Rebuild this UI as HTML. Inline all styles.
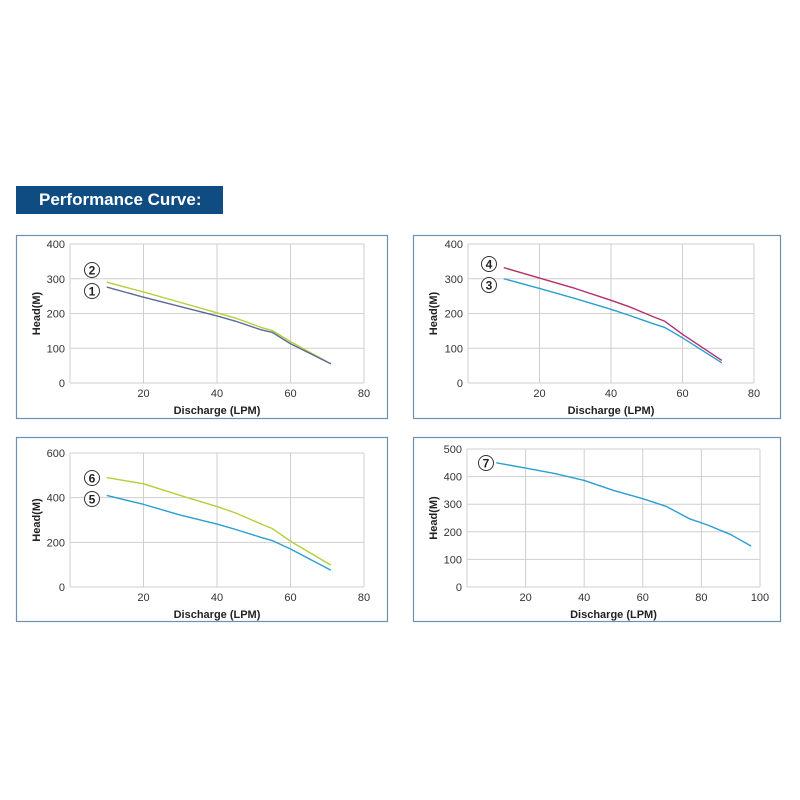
<!DOCTYPE html>
<html><head><meta charset="utf-8"><style>
body{margin:0;width:800px;height:800px;background:#fff;overflow:hidden;font-family:"Liberation Sans",sans-serif}
#hdr{position:absolute;left:16px;top:186px;width:207px;height:28px;background:#0f4c81;color:#fff;font-weight:bold;font-size:17px;line-height:28px;box-sizing:border-box;padding-left:23px}
</style></head><body>
<div id="hdr">Performance Curve:</div>
<svg id="s" width="800" height="800" style="position:absolute;left:0;top:0"></svg>
<script>
const NS="http://www.w3.org/2000/svg",S=document.getElementById('s');
function el(t,a,txt){const e=document.createElementNS(NS,t);for(const k in a)e.setAttribute(k,a[k]);if(txt!==undefined)e.textContent=txt;S.appendChild(e);return e;}
function chart(c){
 el('rect',{x:c.fx+.5,y:c.fy+.5,width:c.fw,height:c.fh,fill:'none',stroke:'#6f8fae','stroke-width':1.2});
 const X=v=>c.l+(v-0)/c.xmax*(c.r-c.l),Y=v=>c.b-v/c.ymax*(c.b-c.t);
 for(let v=0;v<=c.ymax;v+=c.ys){el('line',{x1:c.l,x2:c.r,y1:Y(v),y2:Y(v),stroke:'#cfcfcf','stroke-width':1});
  el('text',{x:c.l-5,y:Y(v)+4,'text-anchor':'end','font-size':11,fill:'#333'},v);}
 for(let v=c.xs;v<=c.xmax;v+=c.xs){el('line',{x1:X(v),x2:X(v),y1:c.t,y2:c.b,stroke:'#cfcfcf','stroke-width':1});
  el('text',{x:X(v),y:c.b+14,'text-anchor':'middle','font-size':11,fill:'#333'},v);}
 el('line',{x1:c.l,x2:c.l,y1:c.t,y2:c.b,stroke:'#cfcfcf'});
 el('text',{x:(c.l+c.r)/2,y:c.b+31,'text-anchor':'middle','font-size':11,'font-weight':'bold',fill:'#222'},'Discharge (LPM)');
 const ym=(c.t+c.b)/2;
 el('text',{x:c.fx+24,y:ym,'text-anchor':'middle','font-size':11,'font-weight':'bold',fill:'#222',transform:`rotate(-90 ${c.fx+24} ${ym})`},'Head(M)');
 c.series.forEach(s=>{el('polyline',{points:s.p.map(q=>X(q[0])+','+Y(q[1])).join(' '),fill:'none',stroke:s.c,'stroke-width':1.4,'stroke-linejoin':'round'});});
 c.labels.forEach(L=>{el('circle',{cx:L[0],cy:L[1],r:7.5,fill:'#fff',stroke:'#333','stroke-width':1});
  el('text',{x:L[0],y:L[1]+4.5,'text-anchor':'middle','font-size':12,'font-weight':'bold',fill:'#222'},L[2]);});
}
const G='#b4cf3a',B='#5a6a9a',C='#2a9fd0',M='#b0306e';
chart({fx:16,fy:235,fw:371,fh:183,l:70,r:364,t:244,b:383,xmax:80,xs:20,ymax:400,ys:100,
 series:[{c:G,p:[[10,290],[20,262],[30,232],[40,202],[45,187],[52,160],[55,151],[60,119],[71,55]]},
 {c:B,p:[[10,276],[20,247],[30,220],[40,193],[45,178],[52,153],[55,146],[60,113],[71,55]]}],
 labels:[[92,270,'2'],[92,291,'1']]});
chart({fx:413,fy:235,fw:367,fh:183,l:468,r:754,t:244,b:383,xmax:80,xs:20,ymax:400,ys:100,
 series:[{c:M,p:[[10,332],[20,302],[30,272],[40,238],[45,220],[52,190],[55,178],[60,140],[71,65]]},
 {c:C,p:[[10,300],[20,272],[30,243],[40,212],[45,195],[52,170],[55,160],[60,130],[71,58]]}],
 labels:[[489,264,'4'],[489,285,'3']]});
chart({fx:16,fy:437,fw:371,fh:184,l:70,r:364,t:453,b:587,xmax:80,xs:20,ymax:600,ys:200,
 series:[{c:G,p:[[10,490],[20,462],[30,410],[40,360],[45,332],[52,282],[55,262],[60,205],[71,98]]},
 {c:C,p:[[10,410],[20,370],[30,322],[40,282],[45,258],[52,222],[55,208],[60,170],[71,75]]}],
 labels:[[92,478,'6'],[92,499,'5']]});
chart({fx:413,fy:437,fw:367,fh:184,l:467,r:760,t:449,b:587,xmax:100,xs:20,ymax:500,ys:100,
 series:[{c:C,p:[[10,450],[20,431],[30,411],[40,386],[50,350],[60,320],[68,292],[76,247],[82,225],[90,190],[97,148]]}],
 labels:[[486,463,'7']]});
</script>
</body></html>
